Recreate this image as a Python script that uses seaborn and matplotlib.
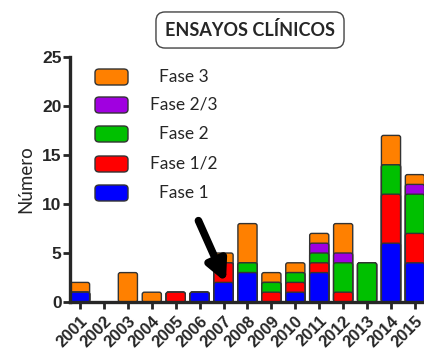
import numpy as np
import pandas as pd
import matplotlib
matplotlib.use("Agg")
import matplotlib.pyplot as plt
import seaborn as sns
from matplotlib.patches import FancyBboxPatch

# datos
years = [str(y) for y in range(2001, 2016)]
fase1 = [1, 0, 0, 0, 0, 1, 2, 3, 0, 1, 3, 0, 0, 6, 4]
fase12 = [0, 0, 0, 0, 1, 0, 2, 0, 1, 1, 1, 1, 0, 5, 3]
fase2 = [0, 0, 0, 0, 0, 0, 0, 1, 1, 1, 1, 3, 4, 3, 4]
fase23 = [0, 0, 0, 0, 0, 0, 0, 0, 0, 0, 1, 1, 0, 0, 1]
fase3 = [1, 0, 3, 1, 0, 0, 1, 4, 1, 1, 1, 3, 0, 3, 1]

labels = ["Fase 1", "Fase 1/2", "Fase 2", "Fase 2/3", "Fase 3"]
colors = ["#0000FF", "#FF0000", "#00C000", "#A000E0", "#FF8000"]

df = pd.DataFrame({"year": years, "Fase 1": fase1, "Fase 1/2": fase12,
                   "Fase 2": fase2, "Fase 2/3": fase23, "Fase 3": fase3})
cum = df[labels].cumsum(axis=1)

sns.set_style("ticks")
plt.rcParams["font.family"] = ["Liberation Sans", "DejaVu Sans"]

fig = plt.figure(figsize=(4.24, 3.54), dpi=100)
ax = fig.add_axes([70 / 424, 52 / 354, 1 - 70 / 424, 245 / 354])

# apilado: se dibuja la suma acumulada desde la capa superior hacia abajo
for lab, col in zip(labels[::-1], colors[::-1]):
    sns.barplot(x=df["year"], y=cum[lab], color=col, saturation=1, errorbar=None,
                width=0.8, edgecolor="#333333", linewidth=1, ax=ax, order=years)

# esquinas redondeadas
for p in list(ax.patches):
    x, y = p.get_x(), p.get_y()
    w, h = p.get_width(), p.get_height()
    fc = p.get_facecolor()
    p.remove()
    if h <= 0:
        continue
    ax.add_patch(FancyBboxPatch((x, y), w, h,
                                boxstyle="round,pad=0,rounding_size=0.09",
                                mutation_aspect=2.45, facecolor=fc,
                                edgecolor="#333333", linewidth=1, zorder=2))

ax.set_xlim(-0.42, 14.38)
ax.set_ylim(0, 25)
ax.set_yticks([0, 5, 10, 15, 20, 25])
ax.set_xlabel("")
ax.set_ylabel("Número", family=["Lato", "DejaVu Sans"], fontsize=13.5, labelpad=6)
sns.despine(ax=ax)
ax.spines["left"].set_bounds(0, 25)
for s in ("left", "bottom"):
    ax.spines[s].set_linewidth(2.4)
ax.tick_params(axis="both", width=2, length=5, direction="out")
ax.tick_params(axis="y", labelsize=12.5, pad=1)
ax.tick_params(axis="x", labelsize=12, pad=3)
for t in ax.get_yticklabels():
    t.set_fontweight("bold")
for t in ax.get_xticklabels():
    t.set_fontweight("bold")
    t.set_rotation(45)
    t.set_ha("right")
    t.set_rotation_mode("anchor")

# leyenda manual
rows_y = [77, 105, 134, 164, 193]
for lab, col, yy in zip(labels[::-1], colors[::-1], rows_y):
    fy = 1 - yy / 354
    fig.patches.append(FancyBboxPatch((95 / 424, fy - 8 / 354), 33 / 424, 16 / 354,
                                      boxstyle="round,pad=0,rounding_size=0.01",
                                      transform=fig.transFigure, facecolor=col,
                                      edgecolor="#333333", linewidth=1))
    fig.text(184 / 424, fy, lab, ha="center", va="center", fontsize=12.5,
             family=["Lato", "DejaVu Sans"])

# flecha hacia 2007
ax.annotate("", xy=(6.1, 2.0), xytext=(4.95, 8.3),
            arrowprops=dict(arrowstyle="-|>", lw=5.5, mutation_scale=30,
                            color="black", shrinkA=0, shrinkB=0), zorder=5)

fig.text(250 / 424, 1 - 30 / 354, "ENSAYOS CLÍNICOS", ha="center", va="center",
         fontsize=13, fontweight="bold", family=["Lato", "DejaVu Sans"],
         bbox=dict(boxstyle="round,pad=0.5,rounding_size=0.5", facecolor="white",
                   edgecolor="#444444", linewidth=1))

fig.savefig("out.png", dpi=100)
